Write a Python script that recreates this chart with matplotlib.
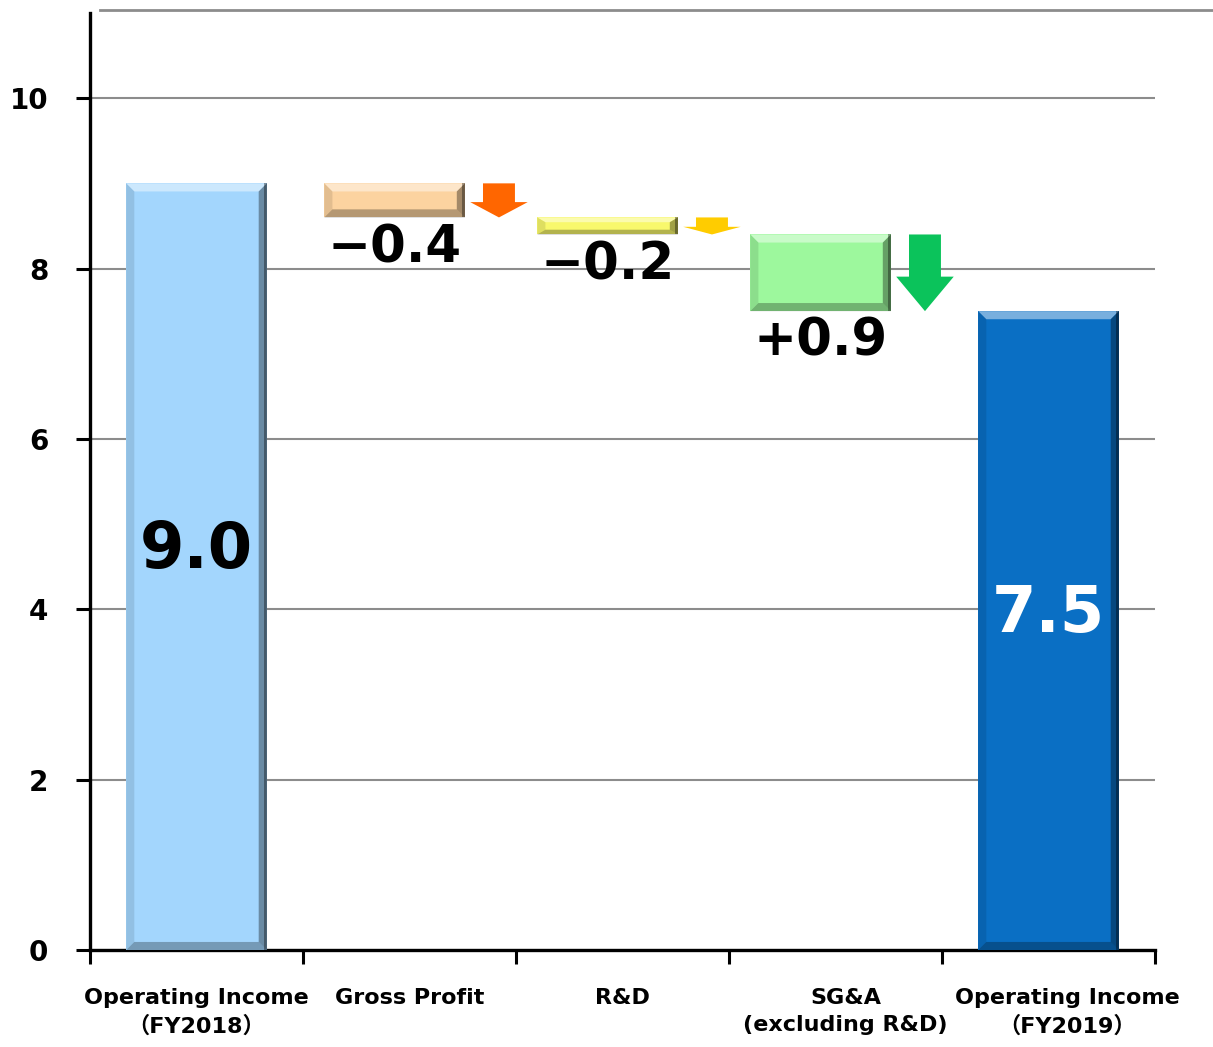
import matplotlib
matplotlib.use("Agg")
import matplotlib.pyplot as plt
from matplotlib.patches import Polygon, Rectangle
from matplotlib.transforms import ScaledTranslation

categories = ["Operating Income\n（FY2018）", "Gross Profit", "R&D",
              "SG&A\n(excluding R&D)", "Operating Income\n（FY2019）"]
fy2018 = 9.0
fy2019 = 7.5
deltas = [-0.4, -0.2, -0.9]
delta_labels = ["−0.4", "−0.2", "+0.9"]
yticks = [0, 2, 4, 6, 8, 10]

total_colors = ["#A3D6FD", "#0A6FC4"]
total_text_colors = ["black", "white"]
delta_colors = ["#FCD3A0", "#F8F86C", "#9DF89D"]
arrow_colors = ["#FF6600", "#FFCC00", "#0BC35B"]

FONT = ["DejaVu Sans", "Noto Sans CJK JP"]
BAR_W = 0.66


def bevel_bar(ax, x0, x1, y0, y1, color):
    """Flat bar with a bevelled frame (light top, dark right/bottom)."""
    ax.add_patch(Rectangle((x0, y0), x1 - x0, y1 - y0, facecolor=color,
                           edgecolor="none", zorder=3))
    dx = 0.038
    dy = min(0.095, (y1 - y0) * 0.28)
    faces = [
        ([(x0, y1), (x1, y1), (x1 - dx, y1 - dy), (x0 + dx, y1 - dy)], "white", 0.45),
        ([(x1, y1), (x1, y0), (x1 - dx, y0 + dy), (x1 - dx, y1 - dy)], "black", 0.35),
        ([(x0, y0), (x1, y0), (x1 - dx, y0 + dy), (x0 + dx, y0 + dy)], "black", 0.28),
        ([(x0, y0), (x0, y1), (x0 + dx, y1 - dy), (x0 + dx, y0 + dy)], "black", 0.10),
    ]
    for pts, c, a in faces:
        ax.add_patch(Polygon(pts, closed=True, facecolor=c, alpha=a,
                             edgecolor="none", zorder=4))
    # darker rim on the right edge
    ax.add_patch(Rectangle((x1 - dx * 0.35, y0), dx * 0.35, y1 - y0,
                           facecolor="black", alpha=0.35, edgecolor="none", zorder=4))


def down_arrow(ax, xc, top, bottom, color):
    length = top - bottom
    head = length * 0.45
    sw, hw = 0.075, 0.135
    pts = [(xc - sw, top), (xc + sw, top), (xc + sw, bottom + head),
           (xc + hw, bottom + head), (xc, bottom), (xc - hw, bottom + head),
           (xc - sw, bottom + head)]
    ax.add_patch(Polygon(pts, closed=True, facecolor=color, edgecolor="none", zorder=3))


fig = plt.figure(figsize=(12.13, 10.47), dpi=100)
ax = fig.add_axes([0.0742, 0.0926, 0.878, 0.895])

# opening / closing totals
for i, (val, c, tc) in zip([0, 4], zip([fy2018, fy2019], total_colors, total_text_colors)):
    bevel_bar(ax, i - BAR_W / 2, i + BAR_W / 2, 0, val, c)
    ax.text(i, val / 2 + 0.2, f"{val:.1f}", ha="center", va="center",
            fontsize=46, fontweight="bold", color=tc, zorder=5)

# floating change bars
level = fy2018
for k, (d, lab, c, ac) in enumerate(zip(deltas, delta_labels, delta_colors, arrow_colors)):
    i = k + 1
    top, bottom = level, level + d
    xc = i - 0.07
    bevel_bar(ax, xc - BAR_W / 2, xc + BAR_W / 2, bottom, top, c)
    down_arrow(ax, i + 0.42, top, bottom, ac)
    ax.text(xc, bottom - 0.36, lab, ha="center", va="center",
            fontsize=37, fontweight="bold", color="black", zorder=5)
    level = bottom

ax.set_xlim(-0.5, 4.5)
ax.set_ylim(0, 11.0)

ax.set_yticks(yticks)
ax.set_yticklabels([str(t) for t in yticks])
ax.yaxis.grid(True, color="#8C8C8C", lw=1.5, zorder=0)
ax.set_axisbelow(True)

ax.set_xticks([-0.5, 0.5, 1.5, 2.5, 3.5, 4.5])
ax.set_xticklabels([])
ax.set_xticks(range(len(categories)), minor=True)
ax.set_xticklabels(categories, minor=True, fontsize=16, fontweight="bold",
                   family=FONT, linespacing=1.45)
ax.tick_params(axis="x", which="major", length=10, width=2.2, direction="out")
ax.tick_params(axis="x", which="minor", length=0, pad=27)
ax.tick_params(axis="y", length=10, width=2.2, direction="out", pad=20,
               labelsize=20)
for t in ax.get_yticklabels():
    t.set_fontweight("bold")

# the two right-hand category labels sit a little right of their ticks
xlabels = ax.get_xticklabels(minor=True)
for lab, shift in zip(xlabels[3:], [10, 19]):
    lab.set_transform(lab.get_transform() + ScaledTranslation(shift / 100, 0, fig.dpi_scale_trans))

for s in ["top", "right"]:
    ax.spines[s].set_visible(False)
for s in ["left", "bottom"]:
    ax.spines[s].set_linewidth(2.4)
    ax.spines[s].set_color("black")

# frame line across the top
ax.plot([0.0094, 1.06], [1.0032, 1.0032], transform=ax.transAxes,
        clip_on=False, color="#8C8C8C", lw=2)

fig.savefig("out.png", dpi=100)
